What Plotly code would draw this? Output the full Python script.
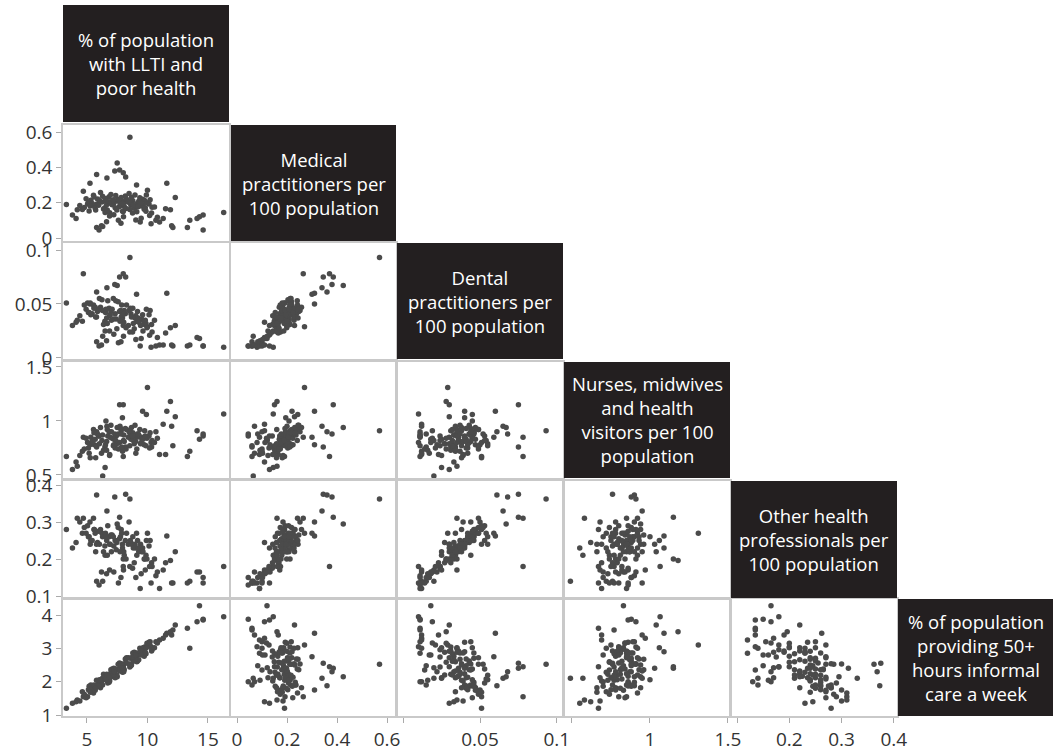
import plotly.graph_objects as go

# ---------------- data (one value per district) ----------------
llti = [
    8.55, 7.5, 7.7, 8.0, 8.2, 11.6, 5.8, 4.7, 9.1, 12.3,
    16.3, 14.3, 14.6, 14.1, 13.3, 13.5, 12.1, 14.6, 11.9, 11.5,
    10.0, 11.0, 10.3, 9.4, 10.7, 3.3, 4.2, 4.1, 6.5, 5.25,
    6.65, 7.3, 5.8, 6.2, 6.0, 7.6, 3.8, 12.0, 11.3, 9.6,
    8.0, 6.3,
    5.05, 5.32, 5.61, 5.87, 6.24, 6.48, 6.83, 7.08, 7.42, 7.69,
    8.04, 8.27, 8.63, 8.91, 9.18, 9.52, 9.77, 10.13, 10.38, 4.62,
    4.93, 5.18, 5.54, 5.79, 6.12, 6.37, 6.72, 6.98, 7.33, 7.58,
    7.94, 8.17, 8.54, 8.79, 9.12, 9.37, 9.73, 9.96, 10.34, 4.41,
    5.12, 5.68, 6.03, 6.29, 6.63, 6.88, 7.22, 7.47, 7.83, 8.08,
    8.42, 8.68, 9.03, 9.28, 9.63, 9.88, 10.22, 10.58, 4.78, 5.43,
    5.97, 6.53, 7.02, 7.38, 7.77, 8.23, 8.58, 8.97, 9.43, 9.82,
    6.92, 7.18, 8.83, 5.58, 7.87, 8.48, 6.68, 9.23, 5.27, 7.73,
    7.22, 8.02, 8.77, 9.48, 10.18, 6.62, 7.81, 10.82, 9.04, 6.87,
    7.93, 6.57, 9.91, 5.72,
]

medical = [
    0.57, 0.425, 0.385, 0.37, 0.345, 0.31, 0.36, 0.265, 0.30, 0.23,
    0.145, 0.12, 0.13, 0.11, 0.06, 0.10, 0.06, 0.045, 0.16, 0.165,
    0.27, 0.09, 0.08, 0.09, 0.10, 0.19, 0.16, 0.11, 0.145, 0.31,
    0.34, 0.38, 0.06, 0.07, 0.045, 0.10, 0.13, 0.07, 0.11, 0.22,
    0.15, 0.065,
    0.192, 0.214, 0.183, 0.221, 0.204, 0.172, 0.233, 0.188, 0.209, 0.178,
    0.201, 0.219, 0.186, 0.168, 0.197, 0.181, 0.212, 0.193, 0.174, 0.162,
    0.223, 0.153, 0.242, 0.191, 0.258, 0.164, 0.206, 0.247, 0.171, 0.218,
    0.152, 0.238, 0.161, 0.211, 0.149, 0.228, 0.163, 0.199, 0.142, 0.184,
    0.203, 0.169, 0.213, 0.236, 0.189, 0.143, 0.198, 0.158, 0.229, 0.179,
    0.202, 0.231, 0.182, 0.208, 0.187, 0.151, 0.217, 0.176, 0.173, 0.196,
    0.185, 0.224, 0.194, 0.241, 0.192, 0.167, 0.207, 0.244, 0.199, 0.171,
    0.205, 0.216, 0.189, 0.232, 0.211, 0.252, 0.159, 0.177, 0.181, 0.200,
    0.132, 0.121, 0.141, 0.112, 0.128, 0.092, 0.083, 0.118, 0.102, 0.124,
    0.195, 0.208, 0.243, 0.158,
]

dental = [
    0.093, 0.067, 0.075, 0.078, 0.075, 0.060, 0.061, 0.078, 0.059, 0.030,
    0.010, 0.018, 0.011, 0.019, 0.011, 0.012, 0.011, 0.011, 0.028, 0.023,
    0.029, 0.012, 0.010, 0.011, 0.011, 0.051, 0.035, 0.033, 0.025, 0.050,
    0.065, 0.068, 0.015, 0.012, 0.011, 0.014, 0.030, 0.012, 0.012, 0.040,
    0.030, 0.020,
    0.051, 0.040, 0.047, 0.043, 0.054, 0.034, 0.046, 0.045, 0.036, 0.043,
    0.033, 0.049, 0.041, 0.027, 0.043, 0.036, 0.031, 0.040, 0.024, 0.034,
    0.045, 0.042, 0.049, 0.038, 0.047, 0.031, 0.053, 0.043, 0.041, 0.052,
    0.037, 0.041, 0.024, 0.046, 0.034, 0.035, 0.033, 0.028, 0.031, 0.039,
    0.042, 0.047, 0.055, 0.044, 0.037, 0.039, 0.036, 0.027, 0.038, 0.044,
    0.030, 0.038, 0.039, 0.033, 0.025, 0.032, 0.044, 0.035, 0.049, 0.041,
    0.045, 0.042, 0.035, 0.053, 0.044, 0.028, 0.046, 0.037, 0.030, 0.035,
    0.040, 0.055, 0.032, 0.046, 0.049, 0.044, 0.032, 0.037, 0.051, 0.034,
    0.022, 0.020, 0.024, 0.018, 0.021, 0.016, 0.015, 0.019, 0.017, 0.025,
    0.040, 0.045, 0.045, 0.038,
]

nurses = [
    0.91, 0.94, 1.15, 0.67, 0.76, 1.09, 0.90, 0.85, 0.85, 1.04,
    1.065, 0.83, 0.86, 0.91, 0.67, 0.72, 0.77, 0.88, 1.18, 0.69,
    1.31, 0.69, 0.80, 0.85, 0.90, 0.67, 0.58, 0.62, 0.57, 0.78,
    0.95, 0.88, 0.76, 0.70, 0.86, 0.74, 0.55, 0.95, 0.97, 1.09,
    1.15, 0.49,
    0.80, 0.85, 0.78, 0.88, 0.82, 0.76, 0.90, 0.84, 0.86, 0.80,
    0.87, 0.92, 0.83, 0.79, 0.88, 0.85, 0.91, 0.86, 0.82, 0.72,
    0.84, 0.70, 0.92, 0.77, 0.94, 0.73, 0.86, 0.96, 0.75, 0.88,
    0.72, 0.93, 0.77, 0.89, 0.74, 0.92, 0.78, 0.84, 0.76, 0.68,
    0.75, 0.83, 0.79, 0.87, 0.81, 0.69, 0.83, 0.79, 0.91, 0.81,
    0.85, 0.94, 0.81, 0.87, 0.83, 0.77, 0.89, 0.80, 0.74, 0.81,
    0.86, 0.78, 0.90, 0.82, 0.93, 0.74, 0.88, 0.96, 0.79, 0.86,
    0.85, 0.77, 0.82, 0.89, 0.76, 0.90, 0.92, 0.88, 0.66, 0.95,
    0.78, 0.82, 0.86, 0.80, 0.75, 0.73, 0.88, 0.84, 0.70, 0.68,
    1.03, 1.00, 1.06, 0.66,
]

other = [
    0.362, 0.295, 0.313, 0.18, 0.375, 0.262, 0.373, 0.31, 0.27, 0.22,
    0.18, 0.165, 0.135, 0.165, 0.135, 0.14, 0.135, 0.15, 0.196, 0.19,
    0.27, 0.12, 0.135, 0.12, 0.155, 0.28, 0.31, 0.245, 0.21, 0.30,
    0.33, 0.368, 0.14, 0.165, 0.13, 0.135, 0.23, 0.135, 0.17, 0.23,
    0.20, 0.14,
    0.29, 0.25, 0.28, 0.245, 0.27, 0.235, 0.26, 0.265, 0.225, 0.255,
    0.22, 0.27, 0.245, 0.19, 0.25, 0.22, 0.20, 0.235, 0.18, 0.27,
    0.27, 0.26, 0.31, 0.24, 0.28, 0.22, 0.29, 0.265, 0.25, 0.285,
    0.23, 0.25, 0.18, 0.26, 0.21, 0.23, 0.20, 0.20, 0.19, 0.30,
    0.26, 0.27, 0.24, 0.26, 0.25, 0.24, 0.235, 0.245, 0.28, 0.21,
    0.24, 0.24, 0.23, 0.22, 0.22, 0.21, 0.25, 0.20, 0.285, 0.25,
    0.275, 0.27, 0.22, 0.25, 0.26, 0.20, 0.25, 0.24, 0.24, 0.17,
    0.24, 0.26, 0.23, 0.28, 0.27, 0.30, 0.21, 0.23, 0.24, 0.22,
    0.165, 0.17, 0.175, 0.16, 0.18, 0.16, 0.15, 0.165, 0.15, 0.17,
    0.24, 0.26, 0.25, 0.22,
]

informal = [
    2.52, 2.15, 2.40, 2.45, 2.55, 3.45, 1.88, 1.55, 2.75, 3.70,
    3.95, 4.28, 3.85, 3.80, 3.60, 3.00, 3.55, 3.87, 3.50, 3.40,
    3.10, 3.25, 3.05, 2.85, 3.20, 1.20, 1.45, 1.40, 2.10, 1.75,
    2.10, 2.30, 1.90, 2.00, 2.00, 2.35, 1.35, 3.40, 3.30, 2.90,
    2.45, 2.10,
    1.55, 1.90, 1.82, 1.86, 2.08, 2.12, 1.98, 2.38, 2.16, 2.56,
    2.30, 2.72, 2.48, 2.88, 2.62, 2.92, 3.04, 3.18, 2.96, 1.70,
    1.52, 1.86, 1.66, 2.04, 1.82, 2.22, 1.96, 2.36, 2.12, 2.52,
    2.28, 2.68, 2.44, 2.86, 2.60, 3.00, 2.76, 3.15, 2.92, 1.42,
    1.76, 1.74, 2.06, 1.90, 2.22, 2.02, 2.40, 2.20, 2.54, 2.36,
    2.72, 2.50, 2.86, 2.66, 3.02, 2.84, 3.20, 3.02, 1.62, 1.80,
    1.87, 2.13, 2.15, 2.38, 2.36, 2.58, 2.70, 2.67, 2.91, 2.88,
    2.24, 2.19, 2.61, 1.90, 2.52, 2.53, 2.20, 2.86, 1.68, 2.32,
    2.30, 2.42, 2.74, 2.80, 3.10, 2.04, 2.48, 3.16, 2.80, 2.12,
    2.40, 2.06, 3.02, 1.82,
]

var_labels = [
    "% of population<br>with LLTI and<br>poor health",
    "Medical<br>practitioners per<br>100 population",
    "Dental<br>practitioners per<br>100 population",
    "Nurses, midwives<br>and health<br>visitors per 100<br>population",
    "Other health<br>professionals per<br>100 population",
    "% of population<br>providing 50+<br>hours informal<br>care a week",
]

x_tickvals = [[5, 10, 15], [0, 0.2, 0.4, 0.6], [0, 0.05, 0.1], [0.5, 1, 1.5], [0.1, 0.2, 0.3, 0.4]]
x_ticktext = [["5", "10", "15"], ["0", "0.2", "0.4", "0.6"], ["", "0.05", "0.1"],
              ["", "1", "1.5"], ["", "0.2", "0.3", "0.4"]]
y_tickvals = [None, [0, 0.2, 0.4, 0.6], [0, 0.05, 0.1], [0.5, 1, 1.5], [0.1, 0.2, 0.3, 0.4], [1, 2, 3, 4]]
y_ticktext = [None, ["0", "0.2", "0.4", "0.6"], ["0", "0.05", "0.1"], ["0.5", "1", "1.5"],
              ["0.1", "0.2", "0.3", "0.4"], ["1", "2", "3", "4"]]

series = [llti, medical, dental, nurses, other, informal]

# ---------------- layout geometry ----------------
W, H = 1053, 755
col_px = [(63, 229), (231, 396), (397, 563), (564, 730), (731, 897), (898, 1053)]
row_px = [(5, 122), (125, 241), (243, 359), (362, 478), (481, 598), (599, 716)]
x_range = [[3.02, 16.74], [-0.024, 0.636], [-0.004, 0.104], [0.449, 1.513], [0.0885, 0.406]]
y_range = [None, [-0.017, 0.64], [-0.001, 0.1065], [0.472, 1.546], [0.0946, 0.411], [0.97, 4.48]]


def fx(p):
    return p / W


def fy(p):
    return 1 - p / H


FRAME = "#c9c9c9"
TICKFONT = dict(family="Open Sans", size=19, color="#333333")
BOX = "#231f20"

fig = go.Figure()
layout = {}
k = 0
for i in range(1, 6):
    for j in range(i):
        k += 1
        sfx = "" if k == 1 else str(k)
        fig.add_trace(go.Scatter(
            x=series[j], y=series[i], mode="markers",
            xaxis="x" + sfx, yaxis="y" + sfx,
            marker=dict(size=5.5, color="#4b4b4b", line=dict(width=0)),
            hoverinfo="skip", showlegend=False,
        ))
        xa = dict(
            domain=[fx(col_px[j][0]), fx(col_px[j][1])], range=x_range[j],
            anchor="y" + sfx, showgrid=False, zeroline=False,
            showline=True, mirror=True, linecolor=FRAME, linewidth=1.5,
            automargin=False, fixedrange=True,
        )
        if i == 5:
            xa.update(ticks="outside", ticklen=5, tickwidth=1, tickcolor="#aaaaaa",
                      tickvals=x_tickvals[j], ticktext=x_ticktext[j],
                      showticklabels=True, tickfont=TICKFONT)
        else:
            xa.update(ticks="", showticklabels=False)
        ya = dict(
            domain=[fy(row_px[i][1]), fy(row_px[i][0])], range=y_range[i],
            anchor="x" + sfx, showgrid=False, zeroline=False,
            showline=True, mirror=True, linecolor=FRAME, linewidth=1.5,
            automargin=False, fixedrange=True,
        )
        if j == 0:
            ya.update(ticks="outside", ticklen=5, tickwidth=1, tickcolor="#aaaaaa",
                      tickvals=y_tickvals[i], ticktext=y_ticktext[i],
                      showticklabels=True, tickfont=TICKFONT)
        else:
            ya.update(ticks="", showticklabels=False)
        layout["xaxis" + sfx] = xa
        layout["yaxis" + sfx] = ya

shapes = []
annotations = []
for d in range(6):
    x0, x1 = col_px[d]
    y0, y1 = row_px[d]
    shapes.append(dict(type="rect", xref="paper", yref="paper",
                       x0=fx(x0), x1=fx(x1), y0=fy(y1), y1=fy(y0),
                       fillcolor=BOX, line=dict(width=0), layer="above"))
    annotations.append(dict(
        text=var_labels[d], xref="paper", yref="paper",
        x=fx((x0 + x1) / 2), y=fy((y0 + y1) / 2),
        xanchor="center", yanchor="middle", showarrow=False, align="center",
        font=dict(family="Open Sans", size=18.5, color="white"),
    ))

fig.update_layout(
    **layout,
    shapes=shapes, annotations=annotations,
    width=W, height=H, template="none",
    margin=dict(l=0, r=0, t=0, b=0, pad=0),
    paper_bgcolor="white", plot_bgcolor="white",
    font=dict(family="Open Sans", color="#333333"),
    showlegend=False,
)

fig.write_html("out.html")
